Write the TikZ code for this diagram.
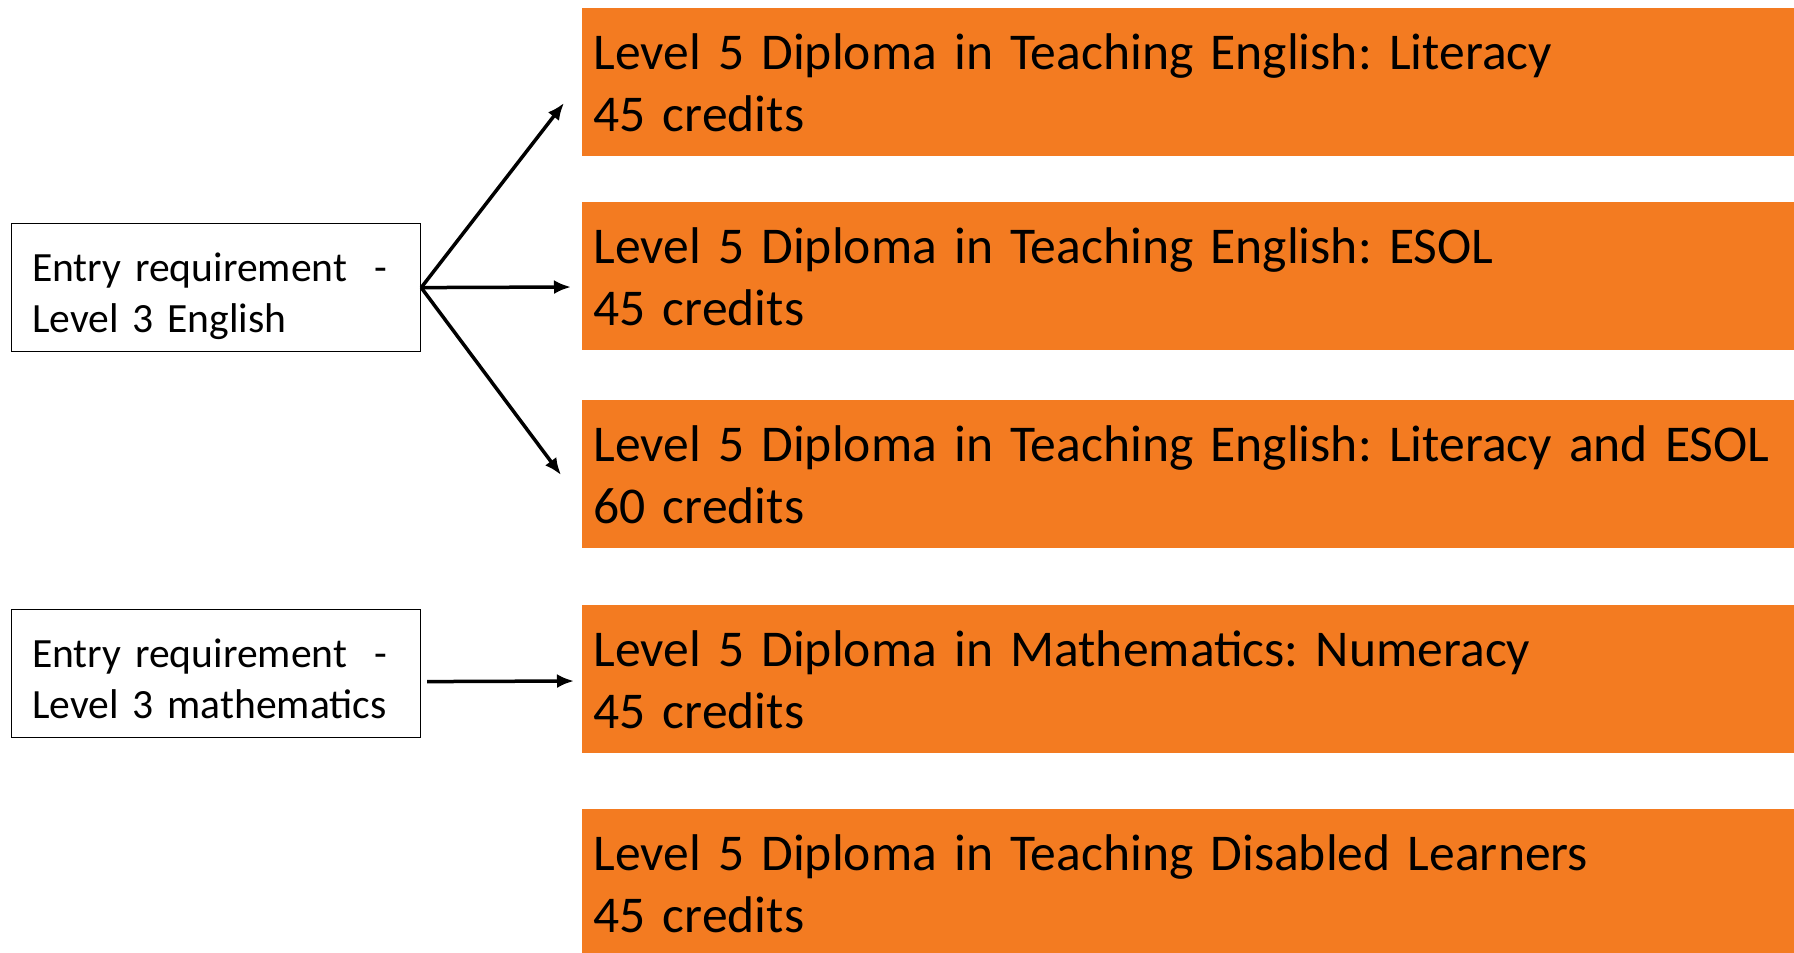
\documentclass[tikz,border=0pt]{standalone}
\usepackage{fontspec}
\setmainfont{Carlito}
\usetikzlibrary{arrows.meta}
\definecolor{diporange}{RGB}{243,123,33}
\frenchspacing

\begin{document}
\begin{tikzpicture}[x=0.5pt,y=-0.5pt,
  course/.style={fill=diporange, anchor=north west, minimum width=606pt, minimum height=74pt,
    text width=595pt, inner xsep=5.5pt, inner ysep=0pt, align=left, font=\fontsize{25.8}{31}\selectfont},
  entry/.style={draw, line width=0.6pt, anchor=north west, minimum width=204.5pt, minimum height=64pt,
    text width=184pt, inner xsep=10.25pt, inner ysep=0pt, align=left,
    font=\fontsize{20.8}{25.5}\selectfont,
    execute at begin node={\rule{0pt}{24pt}}, execute at end node={\rule[-5pt]{0pt}{1pt}}},
  pointer/.style={line width=1.75pt, -{Latex[length=8.5pt,width=7pt]}}]
\useasboundingbox (0,0) rectangle (1794,953);

\node[course] (literacy) at (582,8) {Level 5 Diploma in Teaching English: Literacy\\45 credits};
\node[course] (esol) at (582,202) {Level 5 Diploma in Teaching English: ESOL\\45 credits};
\node[course] (both) at (582,400) {Level 5 Diploma in Teaching English: Literacy and ESOL\\60 credits};
\node[course] (numeracy) at (582,605) {Level 5 Diploma in Mathematics: Numeracy\\45 credits};
\node[course] (disabled) at (582,809) {Level 5 Diploma in Teaching Disabled Learners\\45 credits};

\node[entry] (english) at (11,223) {Entry requirement\ \ -\\Level 3 English};
\node[entry] (maths) at (11,609) {Entry requirement\ \ -\\Level 3 mathematics};

\coordinate (toliteracy) at (564,103);
\coordinate (toesol) at (571,287);
\coordinate (toboth) at (561,475);
\coordinate (tonumeracy) at (574,681);

\draw[pointer] (english.east) -- (toliteracy);
\draw[pointer] (english.east) -- (toesol);
\draw[pointer] (english.east) -- (toboth);
\draw[pointer] ([xshift=3pt,yshift=-4pt]maths.east) -- (tonumeracy);
\end{tikzpicture}
\end{document}
